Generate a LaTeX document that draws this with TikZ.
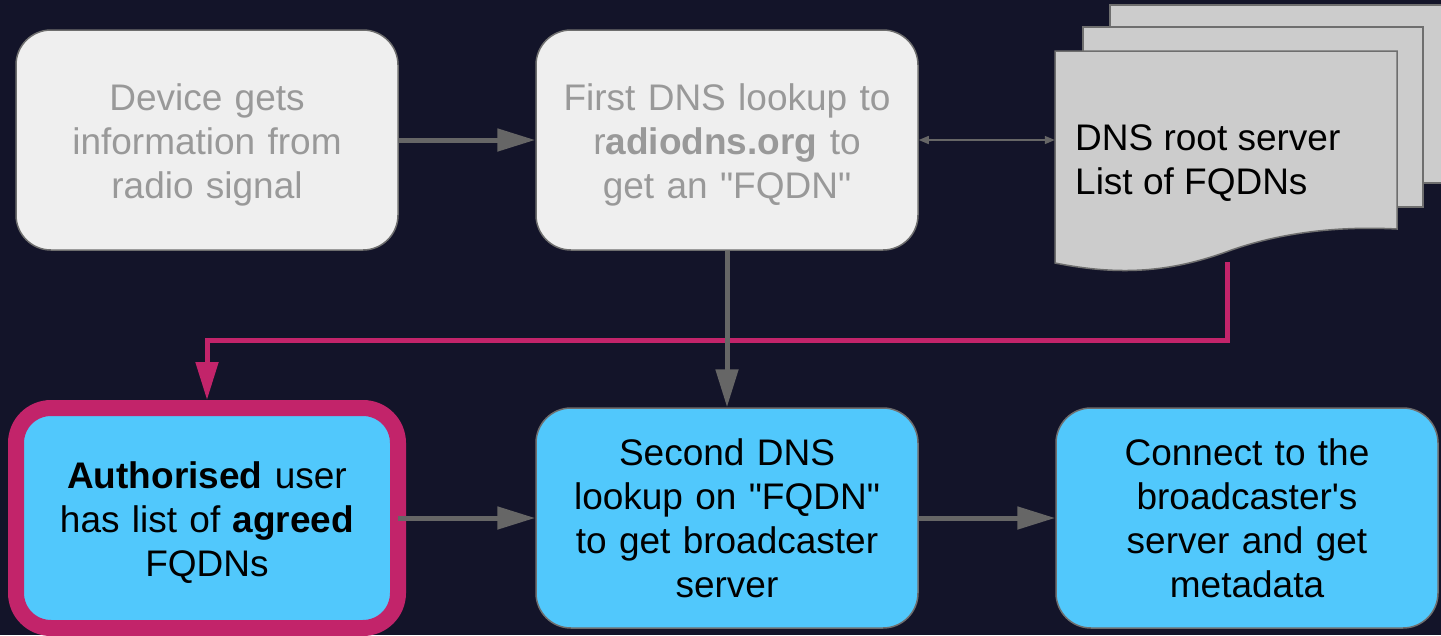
\documentclass[tikz,border=0pt]{standalone}
\usepackage{fontspec}
\setmainfont{Liberation Sans}[Ligatures=TeXOff]
\usetikzlibrary{arrows.meta}

\definecolor{nightbg}{RGB}{19,20,41}
\definecolor{lightbox}{RGB}{239,239,239}
\definecolor{greytext}{RGB}{153,153,153}
\definecolor{boxline}{RGB}{110,110,110}
\definecolor{bluebox}{RGB}{81,200,252}
\definecolor{docgrey}{RGB}{204,204,204}
\definecolor{arrowgrey}{RGB}{102,102,102}
\definecolor{rosered}{RGB}{194,36,106}

% lowers a three line text a little
\newcommand{\topstrut}{\rule{0pt}{36pt}}

\tikzset{
  stepgrey/.style={draw=boxline, line width=1.5pt, fill=lightbox, text=greytext,
    rounded corners=35pt, minimum width=382pt, minimum height=220pt,
    text width=350pt, align=center, font=\fontsize{37}{44}\selectfont},
  stepblue/.style={stepgrey, fill=bluebox, text=black},
  docpage/.style={draw=boxline, line width=1.5pt, fill=docgrey},
  flow/.style={draw=arrowgrey, line width=5pt, -{Triangle[length=38pt,width=22pt]}},
  pinkflow/.style={flow, draw=rosered},
  lookup/.style={draw=arrowgrey, line width=1.5pt,
    {Triangle[length=10pt,width=8pt]}-{Triangle[length=10pt,width=8pt]}}
}

\begin{document}
\begin{tikzpicture}[x=1pt, y=-1pt]
      \useasboundingbox[fill=nightbg] (0,0) rectangle (1441,635);
      % stack of DNS pages
      \draw[docpage] (1110,5) rectangle (1450,183);
      \draw[docpage] (1083,27) rectangle (1423,207);
      \draw[docpage] (1055,51) -- (1397,51) -- (1397,229)
        .. controls (1340,226) and (1280,232) .. (1226,252)
        .. controls (1170,272) and (1120,276) .. (1055,263) -- cycle;
      \path
        (207,140) node[stepgrey] (device){\topstrut Device gets\\information from\\radio signal}
        (727,140) node[stepgrey] (first){\topstrut First DNS lookup to\\r\textbf{adiodns.org} to\\get an "FQDN"}
        (1226,140) node[minimum width=342pt, minimum height=180pt, inner sep=0pt] (doc){}
        (1075,163) node[anchor=west, align=left, inner sep=0pt,
          font=\fontsize{37}{44}\selectfont] (doctext){DNS root server\\List of FQDNs}
        (207,518) node[stepblue, draw=rosered, line width=16pt, outer sep=0pt] (user){\topstrut\textbf{Authorised} user\\has list of \textbf{agreed}\\FQDNs}
        (727,518) node[stepblue] (second){Second DNS\\lookup on "FQDN"\\to get broadcaster\\server}
        (1247,518) node[stepblue] (connect){Connect to the\\broadcaster's\\server and get\\metadata};
      \coordinate (docbot) at (1227,262);
      \coordinate (bend) at (1227,340);
      \begin{scope}
        \draw[pinkflow] (docbot) -- (bend) -| ([yshift=8pt]user.north);
        \draw[flow] (device) to (first);
        \draw[lookup] (first.east) to (doc.west);
        \draw[flow] (first) to (second);
        \draw[flow] (user.east) to (second.west);
        \draw[flow] (second) to (connect);
      \end{scope}
    \end{tikzpicture}
\end{document}
